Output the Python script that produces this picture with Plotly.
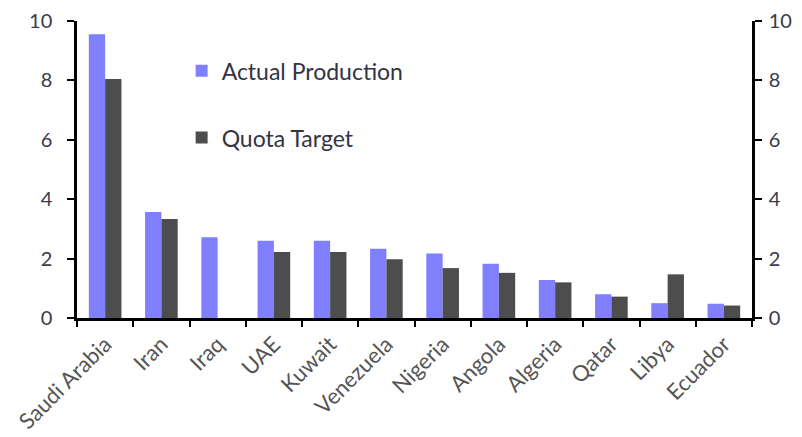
import plotly.graph_objects as go

countries = ["Saudi Arabia", "Iran", "Iraq", "UAE", "Kuwait", "Venezuela",
             "Nigeria", "Angola", "Algeria", "Qatar", "Libya", "Ecuador"]
actual_production = [9.55, 3.57, 2.72, 2.60, 2.60, 2.33, 2.17, 1.83, 1.28, 0.80, 0.50, 0.48]
quota_target = [8.05, 3.33, None, 2.22, 2.22, 1.98, 1.68, 1.52, 1.20, 0.72, 1.47, 0.42]
y_ticks = [0, 2, 4, 6, 8, 10]

FONT = "Lato"
TICK_COLOR = "#3a3a4a"

fig = go.Figure()
fig.add_trace(go.Bar(x=countries, y=actual_production, name="Actual Production",
                     marker=dict(color="#8080ff", line=dict(width=0)),
                     legendgroup="a"))
fig.add_trace(go.Bar(x=countries, y=quota_target, name="Quota Target",
                     marker=dict(color="#4d4d4d", line=dict(width=0)),
                     legendgroup="b"))
# invisible trace to carry the right-hand axis
fig.add_trace(go.Scatter(x=countries, y=actual_production, mode="none",
                         yaxis="y2", showlegend=False, hoverinfo="skip"))

fig.update_layout(
    width=794, height=429,
    margin=dict(l=69, r=50, t=13, b=119),
    paper_bgcolor="white", plot_bgcolor="white",
    barmode="group", bargap=0.42, bargroupgap=0,
    font=dict(family=FONT, size=20, color=TICK_COLOR),
    showlegend=True,
    legend=dict(x=0.155, y=0.905, xanchor="left", yanchor="top",
                bgcolor="rgba(0,0,0,0)", borderwidth=0,
                font=dict(family=FONT, size=23, color="#333344"),
                tracegroupgap=34, itemwidth=30),
    xaxis=dict(showline=True, linecolor="black", linewidth=2.5,
               ticks="outside", tickson="boundaries", ticklen=6, tickwidth=2,
               tickcolor="black", tickangle=-45, ticklabelstandoff=2,
               tickfont=dict(family=FONT, size=22, color="#555555"),
               showgrid=False, automargin=False),
    yaxis=dict(range=[0, 10], tickvals=y_ticks, showline=True, linecolor="black",
               linewidth=2.5, ticks="outside", ticklen=7, tickwidth=2,
               tickcolor="black", showgrid=False, zeroline=False,
               ticklabelstandoff=11,
               tickfont=dict(family=FONT, size=20, color=TICK_COLOR),
               automargin=False),
    yaxis2=dict(range=[0, 10], tickvals=y_ticks, overlaying="y", side="right",
                showline=True, linecolor="black", linewidth=2.5, ticks="outside",
                ticklen=7, tickwidth=2, tickcolor="black", showgrid=False,
                zeroline=False, ticklabelstandoff=3,
                tickfont=dict(family=FONT, size=20, color=TICK_COLOR),
                automargin=False),
)

fig.write_html("out.html")
